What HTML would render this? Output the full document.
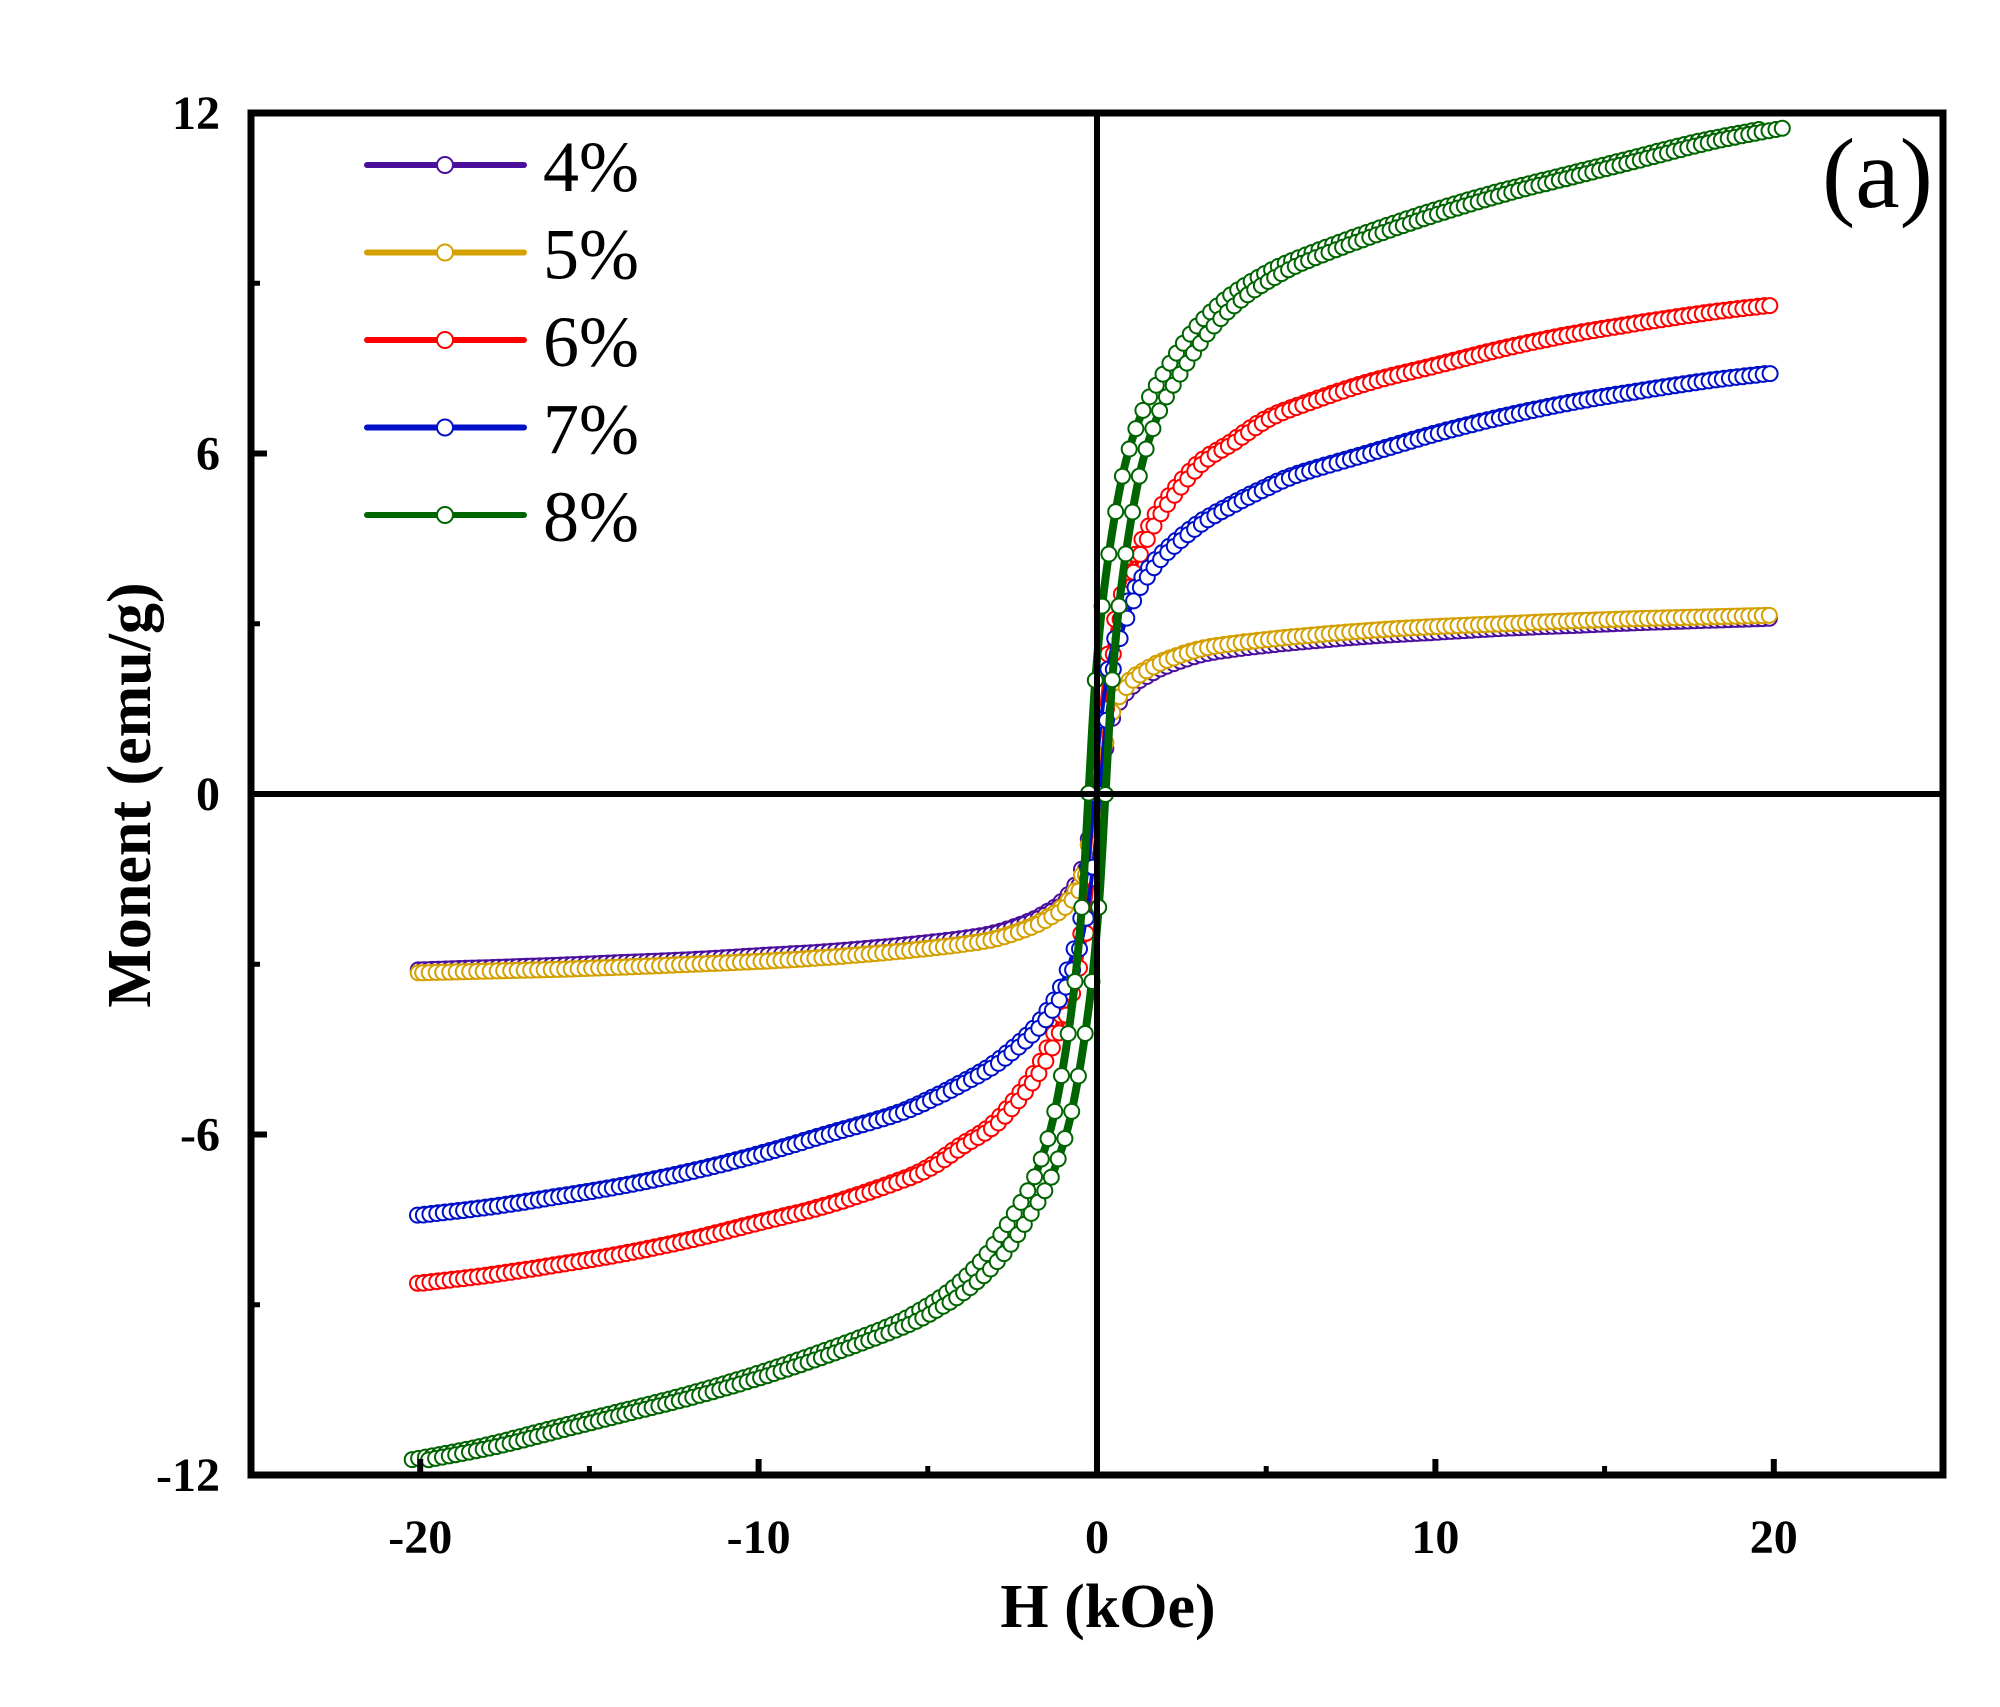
<!DOCTYPE html>
<html><head><meta charset="utf-8"><style>
html,body{margin:0;padding:0;background:#fff}
svg{display:block}
text{font-family:"Liberation Serif","Times New Roman",serif}
</style></head><body>
<svg id="chart" width="2000" height="1707" viewBox="0 0 2000 1707" xmlns="http://www.w3.org/2000/svg">
<g id="series-layer"></g>
<g id="axes-layer"></g>
<g id="legend"></g>
</svg>
<script>
const hPts = [0,0.2,0.5,1,1.5,2,3,4,5,6,8,10,12,14,16,18,20];
const m4 = [0,0.8,1.5,1.9,2.1,2.25,2.45,2.55,2.62,2.68,2.78,2.85,2.92,2.97,3.02,3.06,3.1];
const m5 = [0,0.9,1.6,2.0,2.2,2.35,2.55,2.65,2.72,2.78,2.88,2.95,3.0,3.05,3.09,3.12,3.15];
const m6 = [0,1.5,2.8,3.9,4.6,5.1,5.8,6.2,6.6,6.85,7.25,7.55,7.85,8.1,8.3,8.48,8.62];
const m7 = [0,1.3,2.5,3.4,3.9,4.25,4.75,5.1,5.4,5.65,6.0,6.35,6.65,6.9,7.1,7.28,7.42];
const m8 = [0,2.0,3.8,5.6,6.6,7.2,8.1,8.7,9.1,9.4,9.85,10.25,10.6,10.9,11.2,11.5,11.73];
const coercive = [0.06,0.06,0.08,0.08,0.25];
const seriesNames = ["4%","5%","6%","7%","8%"];
const seriesColors = ["#4b0f9e","#d4a000","#ff0000","#0010c8","#006400"];
const xTicks = [-20,-10,0,10,20];
const xMinor = [-15,-5,5,15];
const yTicks = [-12,-6,0,6,12];
const yMinor = [-9,-3,3,9];

const NS="http://www.w3.org/2000/svg";
const L=251,R=1943,T=113,B=1475;
const xMin=-25,xMax=25,yMin=-12,yMax=12;
function sx(v){return L+(v-xMin)/(xMax-xMin)*(R-L);}
function sy(v){return B-(v-yMin)/(yMax-yMin)*(B-T);}
function mk(tag,attrs,parent){const e=document.createElementNS(NS,tag);for(const k in attrs)e.setAttribute(k,attrs[k]);parent.appendChild(e);return e;}
function smooth(pts){
  let d="M"+pts[0][0].toFixed(1)+","+pts[0][1].toFixed(1);
  for(let i=0;i<pts.length-1;i++){
    const p0=pts[Math.max(0,i-1)],p1=pts[i],p2=pts[i+1],p3=pts[Math.min(pts.length-1,i+2)];
    const c1=[p1[0]+(p2[0]-p0[0])/6,p1[1]+(p2[1]-p0[1])/6];
    const c2=[p2[0]-(p3[0]-p1[0])/6,p2[1]-(p3[1]-p1[1])/6];
    d+="C"+c1[0].toFixed(1)+","+c1[1].toFixed(1)+" "+c2[0].toFixed(1)+","+c2[1].toFixed(1)+" "+p2[0].toFixed(1)+","+p2[1].toFixed(1);
  }
  return d;
}
const allM=[m4,m5,m6,m7,m8];
const sl=document.getElementById('series-layer');
const markerStep=(sx(0.2)-sx(0));
allM.forEach((m,si)=>{
  const col=seriesColors[si], hc=coercive[si];
  const g=mk('g',{},sl);
  
  
  const desc=[],asc=[];
  for(let i=hPts.length-1;i>=1;i--) desc.push([-hPts[i]-hc,-m[i]]);
  for(let i=0;i<hPts.length;i++) desc.push([hPts[i]-hc,m[i]]);
  for(let i=hPts.length-1;i>=1;i--) asc.push([-hPts[i]+hc,-m[i]]);
  for(let i=0;i<hPts.length;i++) asc.push([hPts[i]+hc,m[i]]);
  [desc,asc].forEach((br)=>{
    const px=br.map(p=>[sx(p[0]),sy(p[1])]);
    const d=smooth(px);
    const ln=mk('path',{d:d,fill:'none',stroke:col,'stroke-width':(si==4?8:4)},g);
    
    
    const len=ln.getTotalLength();
    let nextX=px[0][0];
    for(let s=0;s<=len;s+=0.5){
      const p=ln.getPointAtLength(s);
      if(p.x>=nextX){
        const c=mk('circle',{cx:p.x.toFixed(1),cy:p.y.toFixed(1),r:7.5,fill:'#fff',stroke:col,'stroke-width':2},g);
        
        
        nextX+=markerStep;
      }
    }
  });
});

const ax=document.getElementById('axes-layer');
const zx=mk('line',{x1:sx(0),x2:sx(0),y1:T,y2:B,stroke:'#000','stroke-width':6},ax);


const zy=mk('line',{x1:L,x2:R,y1:sy(0),y2:sy(0),stroke:'#000','stroke-width':6},ax);


const frame=mk('rect',{x:L,y:T,width:R-L,height:B-T,fill:'none',stroke:'#000','stroke-width':7},ax);


xTicks.forEach(v=>{
  const t=mk('line',{x1:sx(v),x2:sx(v),y1:B,y2:B-16,stroke:'#000','stroke-width':6},ax);
  
  
  const lb=mk('text',{x:sx(v),y:1553,'text-anchor':'middle','font-size':48,'font-weight':'bold'},ax);
  lb.textContent=String(v);
  
  
});
xMinor.forEach(v=>{
  const t=mk('line',{x1:sx(v),x2:sx(v),y1:B,y2:B-9,stroke:'#000','stroke-width':5},ax);
  
  
});
yTicks.forEach(v=>{
  const t=mk('line',{x1:L,x2:L+16,y1:sy(v),y2:sy(v),stroke:'#000','stroke-width':6},ax);
  
  
  const lb=mk('text',{x:220,y:sy(v)+16,'text-anchor':'end','font-size':48,'font-weight':'bold'},ax);
  lb.textContent=String(v);
  
  
});
yMinor.forEach(v=>{
  const t=mk('line',{x1:L,x2:L+9,y1:sy(v),y2:sy(v),stroke:'#000','stroke-width':5},ax);
  
  
});
const xt=mk('text',{x:1108,y:1627,'text-anchor':'middle','font-size':62,'font-weight':'bold'},ax);
xt.textContent='H (kOe)';


const yt=mk('text',{x:0,y:0,'text-anchor':'middle','font-size':62,'font-weight':'bold',transform:'translate(150,795) rotate(-90)'},ax);
yt.textContent='Monent (emu/g)';


const pl=mk('text',{x:1822,y:207,'font-size':100},ax);
pl.textContent='(a)';



const lg=document.getElementById('legend');
seriesNames.forEach((n,i)=>{
  const y=165+i*87.5;
  const e=mk('g',{},lg);
  
  
  mk('line',{x1:367,x2:524,y1:y,y2:y,stroke:seriesColors[i],'stroke-width':6,'stroke-linecap':'round'},e);
  mk('circle',{cx:445,cy:y,r:8,fill:'#fff',stroke:seriesColors[i],'stroke-width':2},e);
  const t=mk('text',{x:543,y:y+26,'font-size':72},e);
  t.textContent=n;
});
</script>
</body></html>
